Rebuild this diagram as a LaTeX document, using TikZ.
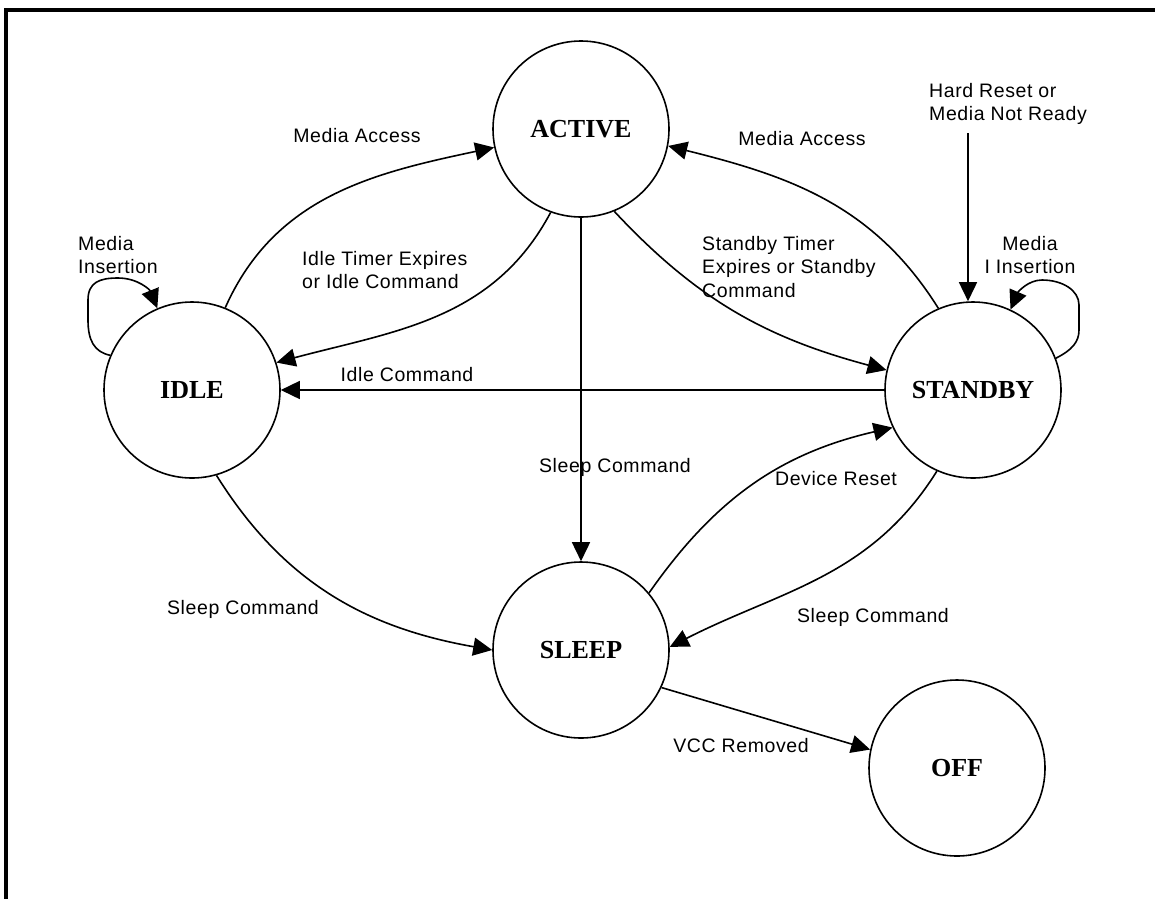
\documentclass[tikz,border=0pt]{standalone}
\usepackage{fontspec}
\usetikzlibrary{arrows.meta}
\newfontfamily\labfont[LetterSpace=3]{Liberation Sans}
\newfontfamily\statefont{Liberation Serif}
\begin{document}
\begin{tikzpicture}[x=1pt,y=1pt,
 state/.style={circle,draw,line width=1.6pt,minimum size=176pt,inner sep=0pt,font=\statefont\fontsize{26}{30}\selectfont\bfseries},
 lab/.style={inner sep=0pt,font=\labfont\fontsize{19.5}{23.5}\selectfont,text height=14pt,text depth=0pt},
 mlab/.style={inner sep=0pt,font=\labfont\fontsize{19.5}{23.5}\selectfont,anchor=north west},
 conn/.style={line width=1.6pt,-{Triangle[length=19pt,width=18pt]}},
]
\useasboundingbox (0,0) rectangle (1155,-898);
\fill[white] (0,0) rectangle (1155,-898);
\draw[line width=3.6pt] (6,-905) -- (6,-10) -- (1162,-10);

% states
\node[state] (active)  at (581,-129) {ACTIVE};
\node[state] (idle)    at (192,-390) {IDLE};
\node[state] (standby) at (973,-390) {STANDBY};
\node[state] (sleep)   at (581,-650) {SLEEP};
\node[state] (off)     at (957,-768) {OFF};

% labels
\node[lab] (lma1) at (357,-135) {Media Access};
\node[lab] (lma2) at (802,-138) {Media Access};
\node[mlab,align=left] (lit) at (302,-251) {Idle Timer Expires\\or Idle Command};
\node[mlab,align=left] (lst) at (702,-236) {Standby Timer\\Expires or Standby\\Command};
\node[mlab,align=left] (lhr) at (929,-83) {Hard Reset or\\Media Not Ready};
\node[mlab,align=left] (lmi1) at (78,-236) {Media\\Insertion};
\node[mlab,align=center,anchor=north] (lmi2) at (1030,-236) {Media\\I Insertion};
\node[lab] (lic) at (407,-374) {Idle Command};
\node[lab] (lsc1) at (615,-465) {Sleep Command};
\node[lab] (lsc2) at (243,-607) {Sleep Command};
\node[lab] (ldr) at (836,-478) {Device Reset};
\node[lab] (lsc3) at (873,-615) {Sleep Command};
\node[lab] (lvcc) at (741,-745) {VCC Removed};

% connectors
\draw[conn] (idle.68) to[out=66,in=192] (active.192);
\draw[conn] (active.250) to[out=-118,in=15] (idle.18);
\draw[conn] (active) -- (sleep);
\draw[conn] (active.292) to[out=-47,in=165] (standby.167);
\draw[conn] (standby.113) to[out=122,in=-14] (active.-11);
\draw[conn] (standby) -- (idle);
\draw[conn] (idle.-74) to[out=-58,in=170] (sleep.180);
\draw[conn] (sleep.40) to[out=55,in=-167] (standby.205);
\draw[conn] (standby.246) to[out=-122,in=27] (sleep.2);
\draw[conn] (sleep.-25) -- (off.168);
\coordinate (hrtop) at (968,-133);
\draw[conn] (hrtop) -- (hrtop |- standby.north);

% self loops
\draw[conn] (idle.157) .. controls (94,-352) and (88,-340) .. (88,-320) -- (88,-300)
  .. controls (88,-282) and (100,-278) .. (118,-278)
  .. controls (138,-278) and (150,-290) .. (idle.113);
\draw[conn] (standby.21) .. controls (1072,-350) and (1079,-342) .. (1079,-330) -- (1079,-305)
  .. controls (1079,-290) and (1062,-280) .. (1042,-280)
  .. controls (1028,-280) and (1018,-292) .. (standby.65);
\end{tikzpicture}
\end{document}
